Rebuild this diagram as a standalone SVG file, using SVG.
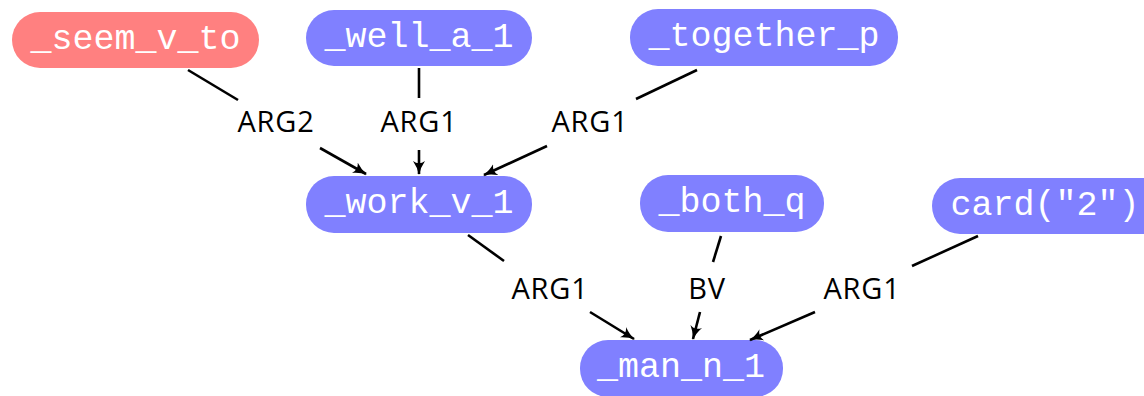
<svg xmlns="http://www.w3.org/2000/svg" width="1144" height="396" viewBox="0 0 1144 396">
<style>
.n{fill:#8080ff}
.r{fill:#ff8080}
.t{font-family:"Liberation Mono",monospace;font-size:35px;fill:#fff;text-anchor:middle;dominant-baseline:central}
.l{font-family:"Open Sans","Noto Sans",sans-serif;font-size:29px;font-weight:500;letter-spacing:0.8px;fill:#000;text-anchor:middle;dominant-baseline:central}
.e{stroke:#000;stroke-width:2.6;fill:none}
</style>
<defs>
<marker id="ah" viewBox="0 0 14 12" refX="13" refY="6" markerWidth="14" markerHeight="12" markerUnits="userSpaceOnUse" orient="auto">
<path d="M0,0 Q7,4.8 14,6 Q7,7.2 0,12 Q4.5,6 0,0 Z" fill="#000"/>
</marker>
</defs>
<g id="seem_v_to"><rect class="r" x="12" y="12" width="247" height="56" rx="28"/><text class="t" x="135.5" y="40">_seem_v_to</text></g>
<g id="well_a_1"><rect class="n" x="306" y="10" width="226" height="56" rx="28"/><text class="t" x="419" y="38">_well_a_1</text></g>
<g id="together_p"><rect class="n" x="630" y="9" width="268" height="57" rx="28"/><text class="t" x="764" y="37">_together_p</text></g>
<g id="work_v_1"><rect class="n" x="306" y="176" width="226" height="57" rx="28"/><text class="t" x="419" y="204">_work_v_1</text></g>
<g id="both_q"><rect class="n" x="640" y="175" width="184" height="57" rx="28"/><text class="t" x="732" y="203">_both_q</text></g>
<g id="card_2"><rect class="n" x="932" y="178" width="240" height="56" rx="28"/><text class="t" x="1045" y="206">card("2")</text></g>
<g id="man_n_1"><rect class="n" x="580" y="340" width="203" height="57" rx="28"/><text class="t" x="681" y="368">_man_n_1</text></g>
<g id="connectors">
<path class="e" d="M188,70 L238,100"/><path class="e" d="M320,148 L366,174" marker-end="url(#ah)"/><text class="l" x="276" y="120">ARG2</text>
<path class="e" d="M419,68 L419,98"/><path class="e" d="M419,150 L419,174" marker-end="url(#ah)"/><text class="l" x="419" y="120">ARG1</text>
<path class="e" d="M697,70 L636,99"/><path class="e" d="M547,146 L484,175" marker-end="url(#ah)"/><text class="l" x="590" y="120">ARG1</text>
<path class="e" d="M468,235 L504,261"/><path class="e" d="M590,312 L634,339" marker-end="url(#ah)"/><text class="l" x="550" y="287">ARG1</text>
<path class="e" d="M721,236 L713,262"/><path class="e" d="M700,312 L693,339" marker-end="url(#ah)"/><text class="l" x="707" y="287">BV</text>
<path class="e" d="M978,236 L912,266"/><path class="e" d="M815,312 L750,340" marker-end="url(#ah)"/><text class="l" x="862" y="287">ARG1</text>
</g>
</svg>
